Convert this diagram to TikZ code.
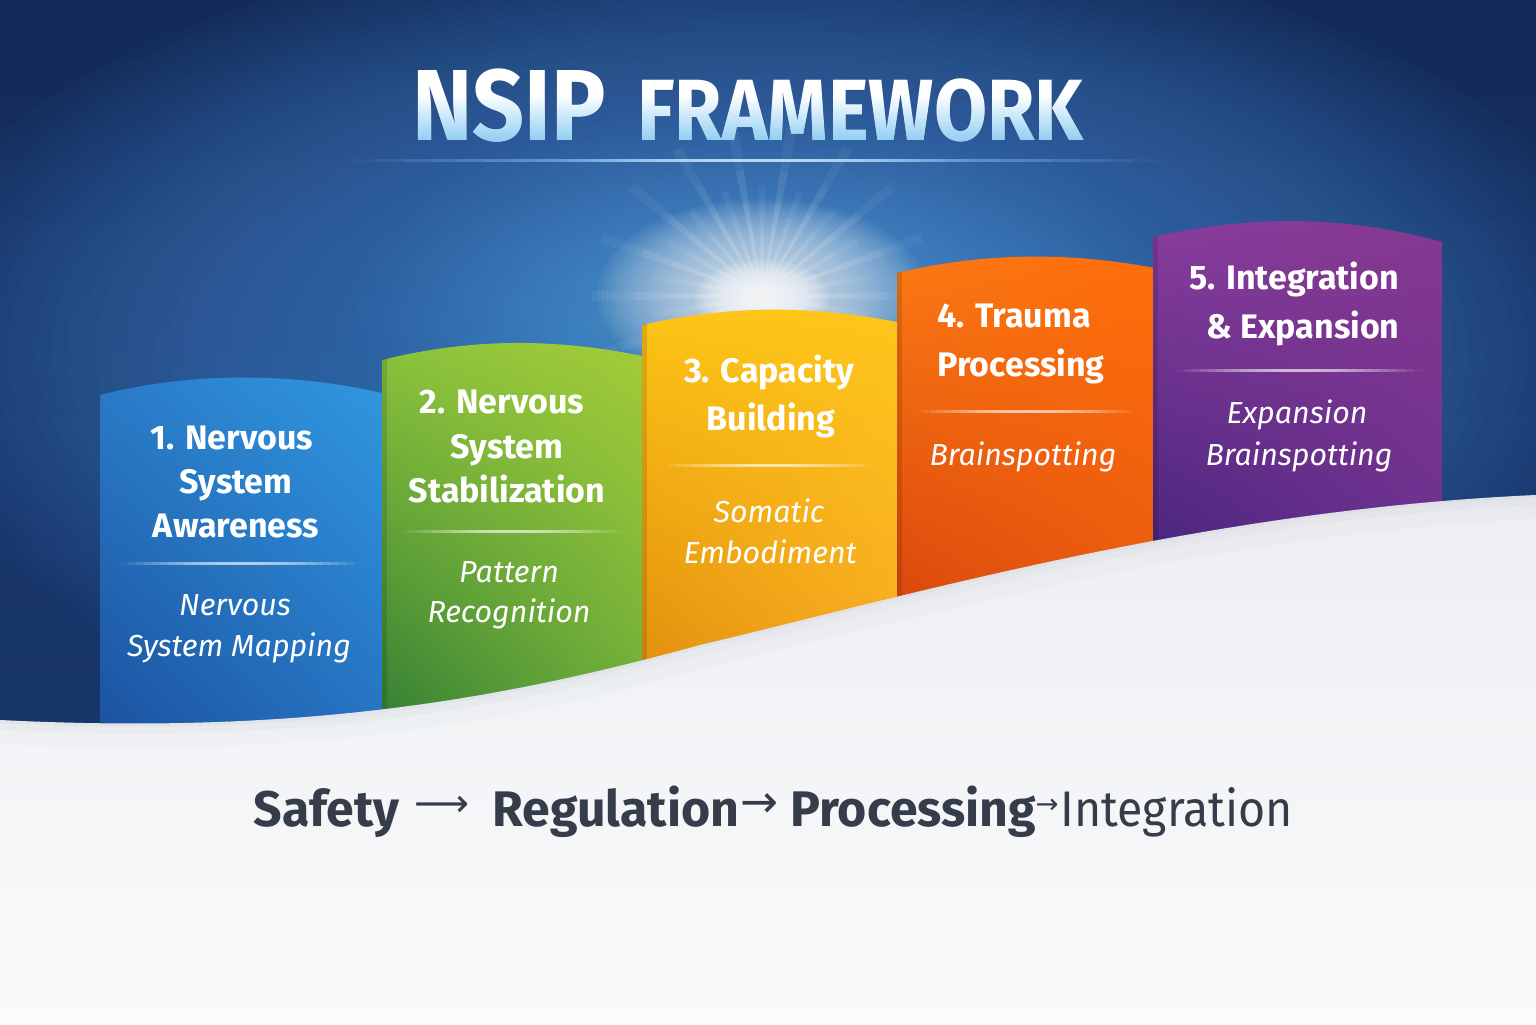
\documentclass[tikz,border=0pt]{standalone}
\usepackage{fontspec}
\setmainfont{Fira Sans}
\newfontfamily\arrowfont{DejaVu Sans}
\usetikzlibrary{shadings,calc}
\definecolor{bgtop}{HTML}{132A58}
\definecolor{bgbot}{HTML}{1A3A72}
\definecolor{glowblue}{HTML}{4A8ED6}
\definecolor{glowblue2}{HTML}{6AAAE6}
\definecolor{tblue}{HTML}{5AB6EE}
\definecolor{linec}{HTML}{7FBEF0}
\definecolor{c1ul}{HTML}{2A7CC8}\definecolor{c1ur}{HTML}{3098E0}\definecolor{c1ll}{HTML}{1A4F9C}\definecolor{c1lr}{HTML}{2570BF}
\definecolor{c2ul}{HTML}{8CC43C}\definecolor{c2ur}{HTML}{A4CC38}\definecolor{c2ll}{HTML}{2E7A34}\definecolor{c2lr}{HTML}{6AAB3A}
\definecolor{c3ul}{HTML}{FDC516}\definecolor{c3ur}{HTML}{FDC71A}\definecolor{c3ll}{HTML}{E08A0C}\definecolor{c3lr}{HTML}{F8A724}
\definecolor{c4ul}{HTML}{FB7A14}\definecolor{c4ur}{HTML}{FF6D0A}\definecolor{c4ll}{HTML}{D8420C}\definecolor{c4lr}{HTML}{E85A10}
\definecolor{c5ul}{HTML}{8B3D9E}\definecolor{c5ur}{HTML}{86388F}\definecolor{c5ll}{HTML}{42237A}\definecolor{c5lr}{HTML}{6A3090}
\definecolor{groundtop}{HTML}{ECEEF2}
\definecolor{groundbot}{HTML}{FBFBFC}
\definecolor{shadowc}{HTML}{8A93A3}
\definecolor{btextc}{HTML}{353D4A}
\pgfdeclareverticalshading{titlegrad}{100bp}{color(0bp)=(tblue); color(15bp)=(tblue); color(55bp)=(white); color(100bp)=(white)}
% soft horizontal line made of segments: x0, x1, y, max opacity, colour
\newcommand\mkdivider[5]{%
  \foreach \i in {0,...,29}{%
    \pgfmathsetmacro\op{#4*sin((\i+0.5)/30*180)}%
    \pgfmathsetmacro\xa{#1+(#2-#1)/30*\i}%
    \pgfmathsetmacro\xb{#1+(#2-#1)/30*(\i+1)}%
    \fill[#5, opacity=\op] (\xa,{#3-1.5}) rectangle (\xb,{#3+1.5});
  }}
\tikzset{
  ctitle/.style={text=white, inner sep=0pt, font=\fontsize{17}{20}\selectfont\bfseries},
  csub/.style={text=white, inner sep=0pt, font=\fontsize{15.2}{19}\selectfont\itshape},
  btext/.style={text=btextc, inner sep=0pt, font=\fontsize{25}{30}\selectfont\bfseries},
  barrow/.style={text=btextc, inner sep=0pt},
  ttl/.style={text=white, inner sep=0pt, anchor=base west}
}
\begin{document}
\begin{tikzpicture}[x=0.5pt,y=-0.5pt]
\useasboundingbox (0,0) rectangle (1536,1024);
% background
\shade[top color=bgtop, bottom color=bgbot] (0,0) rectangle (1536,1024);
\foreach \i in {1,...,60}{
  \fill[glowblue, opacity=0.03] (760,350) ellipse ({900*(1-\i/61)} and {430*(1-\i/61)});
}
\foreach \i in {1,...,30}{
  \fill[glowblue2, opacity=0.025] (762,300) ellipse ({420*(1-\i/31)} and {200*(1-\i/31)});
}
% sun burst
\foreach \s in {1,0.75,0.55,0.4}{
\fill[white, opacity=0.05]
  \foreach \a [count=\i] in {0,10,...,350} { (762,296) -- +({\a-1.8}:{\s*(110+60*mod(\i,2))}) -- +({\a+1.8}:{\s*(110+60*mod(\i,2))}) -- cycle };
}
\foreach \i in {1,...,36}{
  \fill[white, opacity=0.045] (762,296) ellipse ({170*(1-\i/37)} and {100*(1-\i/37)});
}
\foreach \i in {1,...,24}{
  \fill[white, opacity=0.08] (762,298) ellipse ({70*(1-\i/25)} and {40*(1-\i/25)});
}
% title
\node[ttl, font=\fontsize{50.5}{56}\selectfont\bfseries] (nsip) at (412,140) {\scalebox{0.9}[1]{NSIP}};
\node[ttl, font=\fontsize{43.5}{50}\selectfont\bfseries] (fw) at (637,140) {\scalebox{0.885}[1]{FRAMEWORK}};
\shade[shading=titlegrad, blend mode=darken] (400,60) rectangle (1100,146);
\mkdivider{350}{1160}{160}{0.85}{linec}
\mkdivider{560}{960}{160}{0.5}{white}
% cards
\shade[upper left=c1ul, upper right=c1ur, lower left=c1ll, lower right=c1lr]
  (100,760) -- (100,395) .. controls (190,372) and (290,372) .. (382,393) -- (382,750) -- cycle;
\shade[upper left=c2ul, upper right=c2ur, lower left=c2ll, lower right=c2lr]
  (382,750) -- (382,360) .. controls (470,338) and (555,338) .. (642,356) -- (642,700) -- cycle;
\shade[upper left=c3ul, upper right=c3ur, lower left=c3ll, lower right=c3lr]
  (642,700) -- (642,325) .. controls (730,305) and (810,305) .. (897,322) -- (897,640) -- cycle;
\shade[upper left=c4ul, upper right=c4ur, lower left=c4ll, lower right=c4lr]
  (897,640) -- (897,273) .. controls (985,252) and (1070,252) .. (1155,268) -- (1155,585) -- cycle;
\shade[upper left=c5ul, upper right=c5ur, lower left=c5ll, lower right=c5lr]
  (1153,585) -- (1153,237) .. controls (1250,215) and (1345,215) .. (1442,242) -- (1442,545) -- cycle;
% card edge shadows
\fill[black, opacity=0.12] (382,358) rectangle (387,750);
\fill[black, opacity=0.12] (642,324) rectangle (647,700);
\fill[black, opacity=0.12] (897,272) rectangle (902,640);
\fill[black, opacity=0.12] (1153,236) rectangle (1158,585);
% dividers
\mkdivider{120}{362}{563}{0.65}{white}
\mkdivider{402}{622}{531}{0.65}{white}
\mkdivider{662}{877}{465}{0.65}{white}
\mkdivider{915}{1137}{411}{0.65}{white}
\mkdivider{1175}{1422}{370}{0.65}{white}
% card texts
\node[ctitle, anchor=base] (c1a) at (232,449) {1. Nervous};
\node[ctitle, anchor=base] (c1b) at (236,493) {System};
\node[ctitle, anchor=base] (c1c) at (236,537) {Awareness};
\node[csub, anchor=base] (s1a) at (235,615) {Nervous};
\node[csub, anchor=base] (s1b) at (239,656) {System Mapping};
\node[ctitle, anchor=base] (c2a) at (502,413) {2. Nervous};
\node[ctitle, anchor=base] (c2b) at (507,458) {System};
\node[ctitle, anchor=base] (c2c) at (507,502) {Stabilization};
\node[csub, anchor=base] (s2a) at (509,582) {Pattern};
\node[csub, anchor=base] (s2b) at (509,622) {Recognition};
\node[ctitle, anchor=base] (c3a) at (769,382) {3. Capacity};
\node[ctitle, anchor=base] (c3b) at (771,430) {Building};
\node[csub, anchor=base] (s3a) at (769,522) {Somatic};
\node[csub, anchor=base] (s3b) at (770,563) {Embodiment};
\node[ctitle, anchor=base west] (c4a) at (937,327) {4. Trauma};
\node[ctitle, anchor=base west] (c4b) at (937,376) {Processing};
\node[csub, anchor=base] (s4a) at (1023,465) {Brainspotting};
\node[ctitle, anchor=base] (c5a) at (1294,289) {5. Integration};
\node[ctitle, anchor=base] (c5b) at (1303,338) {\& Expansion};
\node[csub, anchor=base] (s5a) at (1297,423) {Expansion};
\node[csub, anchor=base] (s5b) at (1299,465) {Brainspotting};
% ground
\shade[top color=groundtop, bottom color=groundbot]
  (0,720) .. controls (300,735) and (500,700) .. (700,645) .. controls (900,598) and (1200,510) .. (1536,495) -- (1540,1030) -- (-4,1030) -- cycle;
\begin{scope}
  \clip (0,720) .. controls (300,735) and (500,700) .. (700,645) .. controls (900,598) and (1200,510) .. (1536,495) -- (1540,1030) -- (-4,1030) -- cycle;
  \draw[shadowc, line width=24pt, opacity=0.04] (0,720) .. controls (300,735) and (500,700) .. (700,645) .. controls (900,598) and (1200,510) .. (1536,495);
  \draw[shadowc, line width=10pt, opacity=0.05] (0,720) .. controls (300,735) and (500,700) .. (700,645) .. controls (900,598) and (1200,510) .. (1536,495);
  \draw[shadowc, line width=3pt, opacity=0.06] (0,720) .. controls (300,735) and (500,700) .. (700,645) .. controls (900,598) and (1200,510) .. (1536,495);
\end{scope}
% bottom text
\node[btext, anchor=base west] (safety) at (253,826) {Safety};
\node[barrow] (ar1) at (442,806) {\resizebox{27.5pt}{!}{\arrowfont ⟶}};
\node[btext, anchor=base west] (regul) at (492,826) {Regulation};
\node[barrow] (ar2) at (759,806) {\resizebox{19pt}{!}{\arrowfont →}};
\node[btext, anchor=base west] (proc) at (790,826) {Processing};
\node[barrow] (ar3) at (1047,806) {\resizebox{11.5pt}{!}{\arrowfont →}};
\node[btext, anchor=base west, font=\fontsize{25}{30}\selectfont\mdseries] (integ) at (1060,826) {\scalebox{0.93}[1]{Integration}};
\end{tikzpicture}
\end{document}
